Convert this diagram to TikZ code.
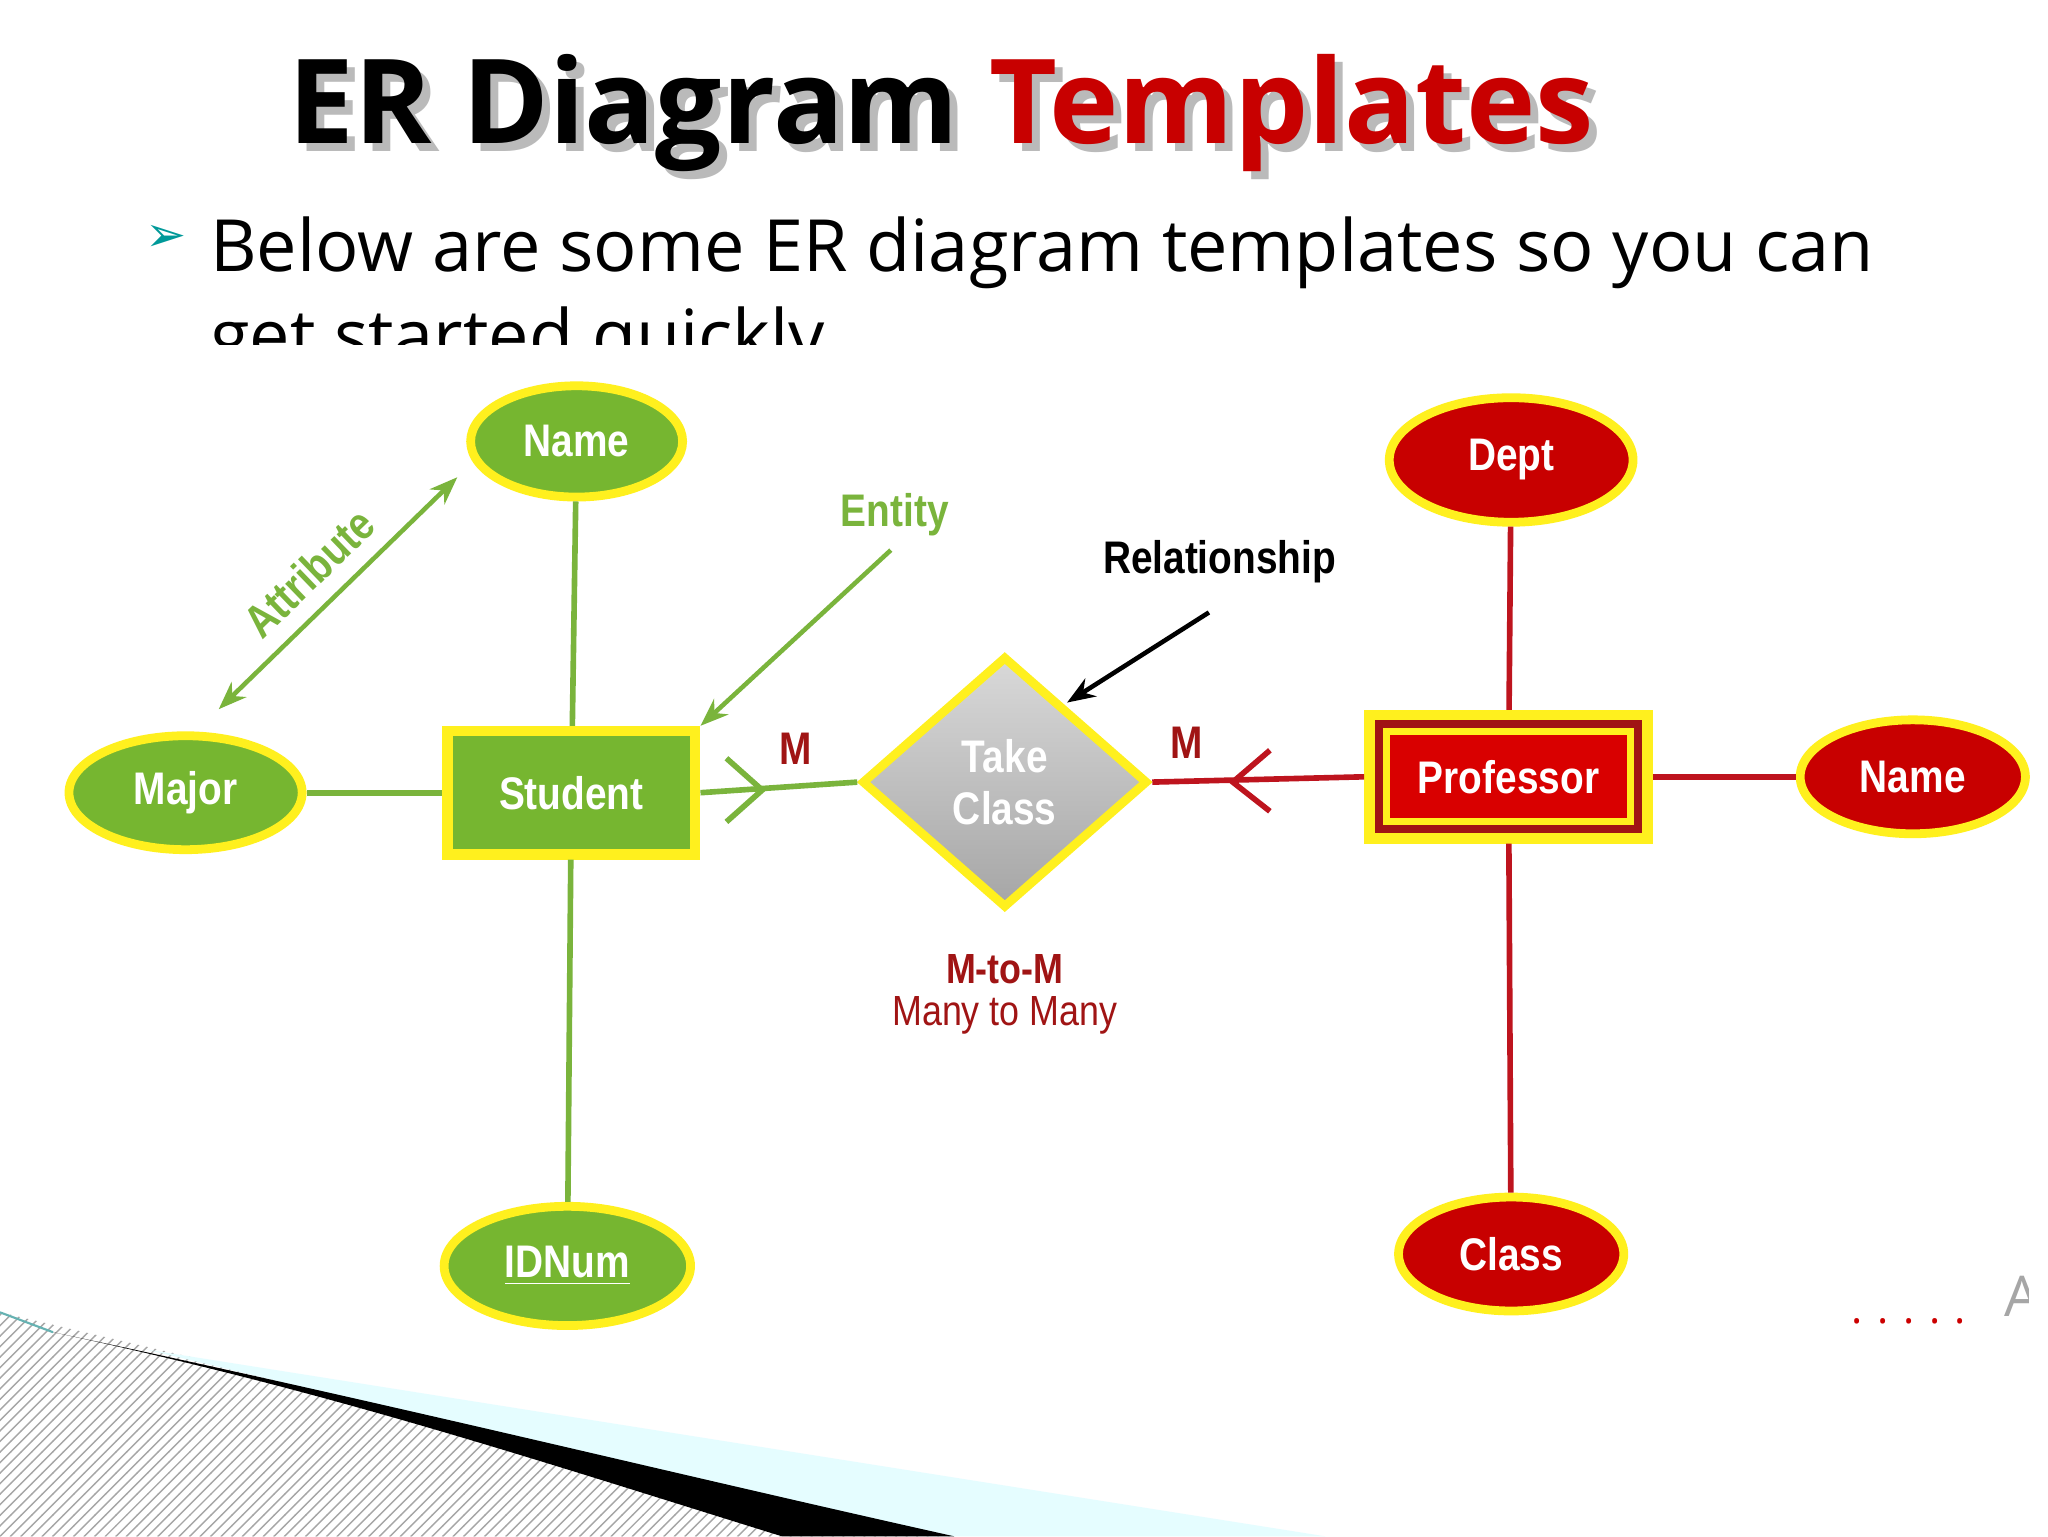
\documentclass[tikz,border=0pt]{standalone}
\usepackage{fontspec}
\setmainfont{Open Sans}
\newfontfamily\dgfont[FakeStretch=0.85]{Liberation Sans}
\newfontfamily\symfont{DejaVu Sans}
\usetikzlibrary{shapes.geometric,patterns,arrows.meta}
\definecolor{gfill}{RGB}{118,182,48}
\definecolor{gline}{RGB}{122,180,60}
\definecolor{ylw}{RGB}{255,240,30}
\definecolor{rfill}{RGB}{200,0,0}
\definecolor{rline}{RGB}{190,20,30}
\definecolor{dkred}{RGB}{160,20,20}
\definecolor{ttlred}{RGB}{200,0,0}
\tikzset{
 gell/.style={ellipse,draw=ylw,line width=2.5pt,fill=gfill,text=white,font=\dgfont\bfseries\fontsize{13}{13}\selectfont,inner sep=0pt},
 rell/.style={ellipse,draw=ylw,line width=2.5pt,fill=rfill,text=white,font=\dgfont\bfseries\fontsize{13}{13}\selectfont,inner sep=0pt},
 gl/.style={draw=gline,line width=1.6pt},
 rl/.style={draw=rline,line width=1.6pt},
 lbl/.style={font=\dgfont\bfseries\fontsize{13}{13}\selectfont}
}
\begin{document}
\begin{tikzpicture}[x=0.013256cm,y=-0.013256cm]
\useasboundingbox (0,0) rectangle (1545,1159);
\fill[white] (0,0) rectangle (1545,1159);
% title
\node[text=black!45,opacity=0.6,font=\bfseries\fontsize{33.4}{34}\selectfont] at (716,91) {ER Diagram \phantom{Templates}};
\node[text=black!45,opacity=0.6,font=\bfseries\fontsize{33.4}{34}\selectfont] at (716,91) {\phantom{ER Diagram }Templates};
\node (title) [font=\bfseries\fontsize{33.4}{34}\selectfont] at (710,85) {ER Diagram \textcolor{ttlred}{Templates}};
\node (bul) [text=teal!80!cyan,font=\symfont\fontsize{14}{14}\selectfont] at (125,180) {➢};
\begin{scope}
\clip (100,140) rectangle (1545,260);
\node (sub) [anchor=north west,align=left,font=\fontsize{20.5}{25.5}\selectfont,inner sep=0pt] at (158,163) {Below are some ER diagram templates so you can\\get started quickly};
\end{scope}
% decoration
\fill[pattern=north east lines,pattern color=black!35] (0,990) -- (720,1159) -- (0,1159) -- cycle;
\fill[blue!8!cyan!10] (110,1018) -- (1000,1159) -- (700,1159) -- cycle;
\fill[black] (40,1005) .. controls (300,1060) and (500,1110) .. (720,1159) -- (590,1159) .. controls (400,1100) and (250,1050) .. (40,1005) -- cycle;
\draw[teal!60,line width=0.6pt] (0,990) -- (40,1005);
% nodes
\node (name) [gell,minimum width=160*0.3771pt,minimum height=84*0.3771pt] at (435,333) {Name};
\node (major) [gell,minimum width=176*0.3771pt,minimum height=86*0.3771pt] at (140,598) {Major};
\node (idnum) [gell,minimum width=186*0.3771pt,minimum height=90*0.3771pt] at (428,955) {\underline{IDNum}};
\node (student) [draw=ylw,line width=3pt,fill=gfill,text=white,minimum width=187*0.3771pt,minimum height=93*0.3771pt,font=\dgfont\bfseries\fontsize{13}{13}\selectfont] at (431,598) {Student};
\node (take) [diamond,draw=ylw,line width=2.5pt,top color=gray!30,bottom color=gray!70,text=white,minimum width=216*0.3771pt,minimum height=190*0.3771pt,inner sep=0pt,align=center,font=\dgfont\bfseries\fontsize{13}{15}\selectfont] at (758,590) {Take\\Class};
\node (prof) [draw=ylw,line width=3pt,fill=dkred,minimum width=210*0.3771pt,minimum height=93*0.3771pt] at (1138,586) {};
\node (profin) [draw=ylw,line width=2pt,fill=red!85!black,text=white,minimum width=184*0.3771pt,minimum height=68*0.3771pt,font=\dgfont\bfseries\fontsize{13}{13}\selectfont] at (1138,586) {Professor};
\node (dept) [rell,minimum width=184*0.3771pt,minimum height=94*0.3771pt] at (1140,347) {Dept};
\node (rname) [rell,minimum width=170*0.3771pt,minimum height=86*0.3771pt] at (1443,586) {Name};
\node (class) [rell,minimum width=170*0.3771pt,minimum height=86*0.3771pt] at (1140,946) {Class};
% connectors
\draw[gl] (name) -- (student);
\draw[gl] (major) -- (student);
\draw[gl] (student) -- (idnum);
\draw[gl] (student.east) -- (take.west);
\coordinate (cf1) at (575,596);
\draw[gl] (548,572) -- (cf1) -- (548,620);
\draw[rl] (take.east) -- (prof.west);
\coordinate (cf2) at (930,590);
\draw[rl] (958,566) -- (cf2) -- (958,612);
\draw[rl] (dept) -- (prof);
\draw[rl] (prof) -- (rname);
\draw[rl] (prof) -- (class);
\node (m1) [lbl,text=dkred] at (600,565) {M};
\node (m2) [lbl,text=dkred] at (895,560) {M};
% annotations
\coordinate (a1) at (165,535);
\coordinate (a2) at (345,360);
\draw[gl,{Stealth[length=8pt]}-{Stealth[length=8pt]},line width=1.3pt] (a1) -- (a2);
\node (attr) [lbl,text=gline,rotate=44] at (233,432) {Attribute};
\node (ent) [lbl,text=gline] at (675,388) {Entity};
\draw[gl,-{Stealth[length=8pt]},line width=1.3pt] (672,415) -- (student.north east);
\node (rel) [lbl,text=black] at (920,424) {Relationship};
\draw[black,-{Stealth[length=8pt]},line width=1.3pt] (912,462) -- (805,530);
\node (mtm) [font=\dgfont\bfseries\fontsize{12}{12}\selectfont,text=dkred] at (758,731) {M-to-M};
\node (many) [font=\dgfont\fontsize{12}{12}\selectfont,text=dkred] at (758,766) {Many to Many};
\node (dots) [text=red!80!black,font=\fontsize{12}{12}\selectfont] at (1440,997) {. . . . .};
\begin{scope}
\clip (1490,940) rectangle (1530,1020);
\node (ac) [anchor=west,text=black!35,font=\fontsize{16}{16}\selectfont] at (1503,978) {Ac};
\end{scope}
\end{tikzpicture}
\end{document}
